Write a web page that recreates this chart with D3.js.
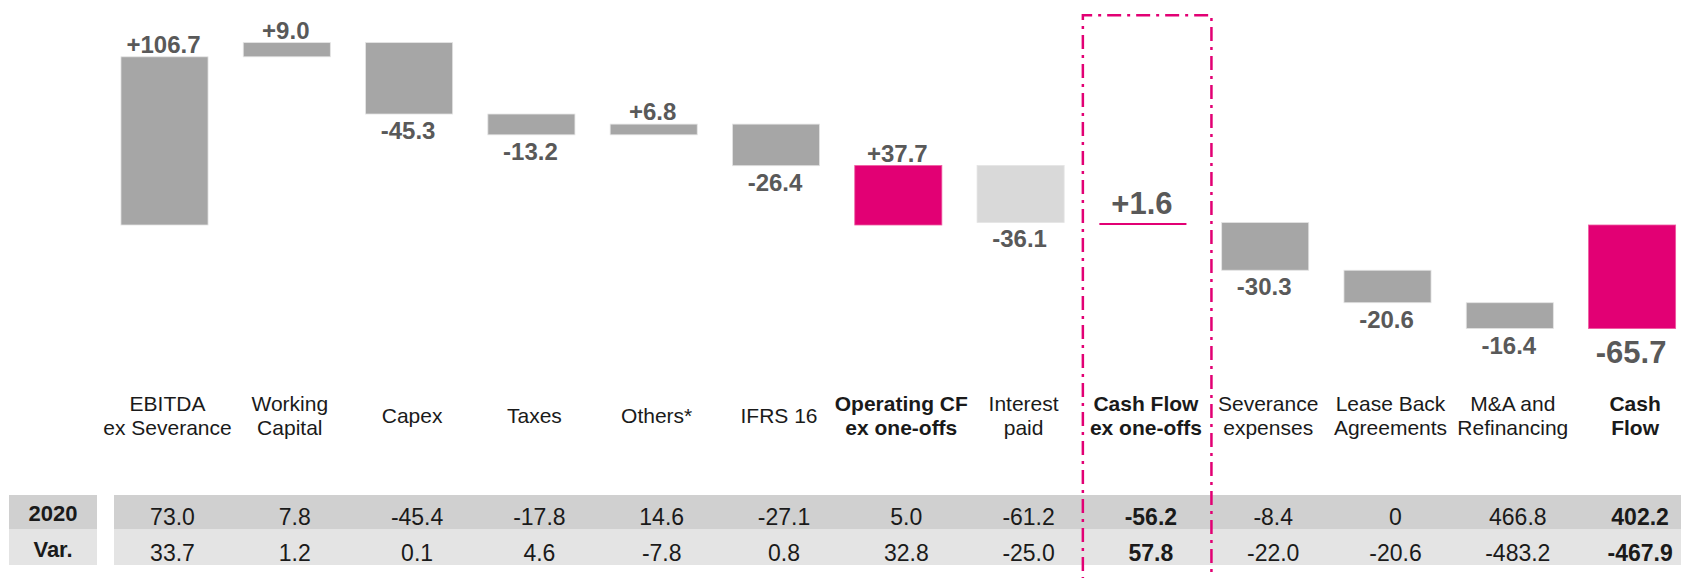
<!DOCTYPE html>
<html>
<head>
<meta charset="utf-8">
<script src="https://cdn.jsdelivr.net/npm/d3@7"></script>
<style>
  body { margin: 0; background: #fff; }
  svg text { font-family: "Liberation Sans", Arial, sans-serif; }
</style>
</head>
<body>
<svg id="chart" width="1681" height="578"></svg>
<script>
// categories (lines split with |), bold flag marks totals
const categories = [
  "EBITDA|ex Severance", "Working|Capital", "Capex", "Taxes", "Others*", "IFRS 16",
  "Operating CF|ex one-offs", "Interest|paid", "Cash Flow|ex one-offs",
  "Severance|expenses", "Lease Back|Agreements", "M&A and|Refinancing", "Cash|Flow"
];
const deltas = [106.7, 9.0, -45.3, -13.2, 6.8, -26.4, 37.7, -36.1, 1.6, -30.3, -20.6, -16.4, -65.7];
const kinds = ["step", "step", "step", "step", "step", "step", "total", "light", "line", "step", "step", "step", "total"];
const boldCats = [6, 8, 12];
const row2020 = ["73.0", "7.8", "-45.4", "-17.8", "14.6", "-27.1", "5.0", "-61.2", "-56.2", "-8.4", "0", "466.8", "402.2"];
const rowVar = ["33.7", "1.2", "0.1", "4.6", "-7.8", "0.8", "32.8", "-25.0", "57.8", "-22.0", "-20.6", "-483.2", "-467.9"];
const rowLabels = ["2020", "Var."];

const pink = "#e20074", grey = "#a6a6a6", lightGrey = "#d9d9d9", labelColor = "#595959";

const svg = d3.select("#chart");

const x = d3.scaleBand()
  .domain(d3.range(categories.length))
  .range([103.35, 1693.25])
  .paddingInner(0.288)
  .paddingOuter(0.144);

const y = d3.scaleLinear().domain([0, 106.7]).range([225, 56.8]);

// running totals for the waterfall
let run = 0;
const bars = deltas.map((d, i) => {
  let start, end;
  if (kinds[i] === "total" || kinds[i] === "line") {
    start = 0; end = d;
  } else {
    start = run; end = run + d;
  }
  run = end;
  return { i, d, start, end, kind: kinds[i] };
});

const g = svg.append("g");

g.selectAll("rect.bar")
  .data(bars.filter(b => b.kind !== "line"))
  .join("rect")
  .attr("class", "bar")
  .attr("x", b => x(b.i))
  .attr("width", x.bandwidth())
  .attr("y", b => y(Math.max(b.start, b.end)))
  .attr("height", b => Math.abs(y(b.start) - y(b.end)))
  .attr("fill", b => b.kind === "total" ? pink : b.kind === "light" ? lightGrey : grey)
  .attr("stroke", b => b.kind === "total" ? "#ee5aa0" : "#e4e4e4")
  .attr("stroke-width", 0.8);

// Cash Flow ex one-offs shown as a thin line
bars.filter(b => b.kind === "line").forEach(b => {
  g.append("line")
    .attr("x1", x(b.i)).attr("x2", x(b.i) + x.bandwidth())
    .attr("y1", y(b.end) + 1.5).attr("y2", y(b.end) + 1.5)
    .attr("stroke", pink).attr("stroke-width", 2);
});

// value labels
const fmt = v => (v > 0 ? "+" : "") + v.toFixed(1);
g.selectAll("text.val")
  .data(bars)
  .join("text")
  .attr("class", "val")
  .attr("text-anchor", "middle")
  .attr("font-weight", "bold")
  .attr("fill", labelColor)
  .attr("font-size", b => b.i === 8 || b.i === 12 ? 31 : 24)
  .attr("x", b => x(b.i) + x.bandwidth() / 2 - 1)
  .attr("y", b => {
    const top = y(Math.max(b.start, b.end)), bot = y(Math.min(b.start, b.end));
    if (b.kind === "line") return top - 8;
    if (b.i === 12) return bot + 34;
    return b.d > 0 ? top - 4 : bot + 25;
  })
  .text(b => fmt(b.d));

// category labels
const cat = svg.append("g").selectAll("text")
  .data(categories)
  .join("text")
  .attr("text-anchor", "middle")
  .attr("font-size", 21)
  .attr("fill", "#1a1a1a")
  .attr("font-weight", (d, i) => boldCats.includes(i) ? "bold" : "normal")
  .attr("x", (d, i) => x(i) + x.bandwidth() / 2 + 3);

cat.each(function(d) {
  const lines = d.split("|");
  const t = d3.select(this);
  const y0 = lines.length === 1 ? 423 : 410.5;
  lines.forEach((l, k) => {
    t.append("tspan").attr("x", t.attr("x")).attr("y", y0 + k * 24.5).text(l);
  });
});

// table
const rows = [
  { label: rowLabels[0], vals: row2020, y0: 495, y1: 529, fill: "#d0d0d0", base: 525 },
  { label: rowLabels[1], vals: rowVar, y0: 529, y1: 565, fill: "#e4e4e4", base: 560.5 }
];
const table = svg.append("g");
rows.forEach(r => {
  table.append("rect").attr("x", 9).attr("y", r.y0).attr("width", 88).attr("height", r.y1 - r.y0).attr("fill", r.fill);
  table.append("rect").attr("x", 114).attr("y", r.y0).attr("width", 1681 - 114).attr("height", r.y1 - r.y0).attr("fill", r.fill);
  table.append("text").attr("x", 53).attr("y", r.base - 4).attr("text-anchor", "middle")
    .attr("font-size", 22).attr("font-weight", "bold").attr("fill", "#1a1a1a").text(r.label);
  table.selectAll(null)
    .data(r.vals)
    .join("text")
    .attr("x", (d, i) => x(i) + x.bandwidth() / 2 + 8)
    .attr("y", r.base)
    .attr("text-anchor", "middle")
    .attr("font-size", 23)
    .attr("font-weight", (d, i) => (i === 8 || i === 12) ? "bold" : "normal")
    .attr("fill", "#1a1a1a")
    .text(d => d);
});

// dash-dot highlight box around Cash Flow ex one-offs
const bx0 = x(8) - 16.5, bx1 = x(8) + x.bandwidth() + 25;
svg.append("path")
  .attr("d", `M${bx0},600 L${bx0},15.3 L${bx1},15.3 L${bx1},600`)
  .attr("fill", "none")
  .attr("stroke", pink)
  .attr("stroke-width", 2.5)
  .attr("stroke-dasharray", "14,6,3,6");
</script>
</body>
</html>
